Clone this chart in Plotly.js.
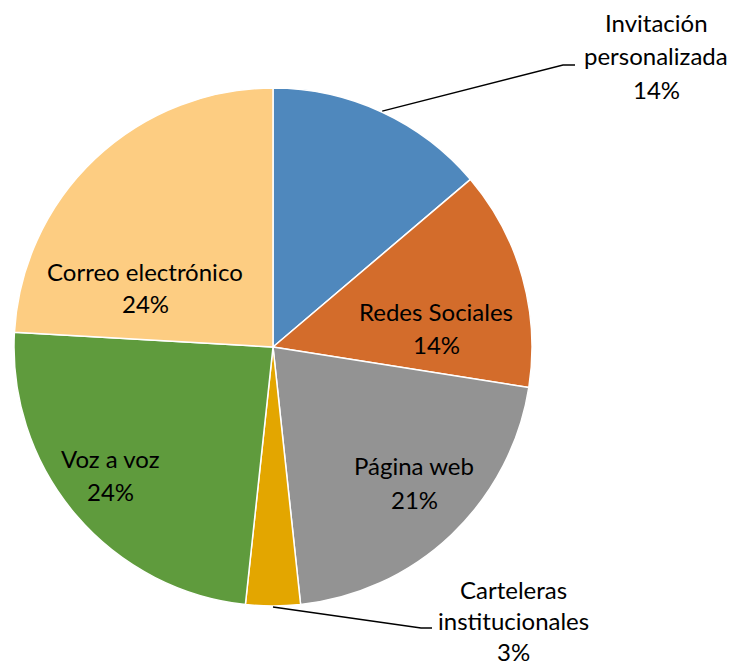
<!DOCTYPE html>
<html>
<head>
<meta charset="utf-8">
<script src="https://cdn.plot.ly/plotly-3.0.1.min.js"></script>
<style>html,body{margin:0;padding:0;background:#fff;}#chart{width:734px;height:667px;}</style>
</head>
<body>
<div id="chart"></div>
<script>
// Data
const categories = ["Invitación personalizada", "Redes Sociales", "Página web", "Carteleras institucionales", "Voz a voz", "Correo electrónico"];
const labelLines = [["Invitación", "personalizada"], ["Redes Sociales"], ["Página web"], ["Carteleras", "institucionales"], ["Voz a voz"], ["Correo electrónico"]];
const values = [13.8, 13.7, 20.8, 3.4, 24.2, 24.1];
const colors = ["#4F88BD", "#D36C2B", "#939393", "#E3A600", "#5F9B3D", "#FDCD82"];

// Layout constants (pixels)
const W = 734, H = 667;
const CX = 273, CY = 347, R = 259;
// label block positions: [x center, first line y center, line step]
const labelPos = [[656, 23, 33], [436, 311, 33], [414, 466, 33], [513, 589, 31], [110, 458, 33], [145, 271, 33]];
// leader line elbows for outside labels: index -> [elbowX, elbowY, endX]
const leaders = {0: [563, 65, 575], 3: [421, 628, 432]};

const px = x => x / W;
const py = y => 1 - y / H;

const total = values.reduce((a, b) => a + b, 0);
const annotations = [];
const shapes = [];
let cum = 0;
values.forEach((v, i) => {
  const pct = Math.round(v / total * 100) + "%";
  const lines = labelLines[i].concat([pct]);
  const [lx, ly, step] = labelPos[i];
  lines.forEach((t, k) => {
    annotations.push({
      x: px(lx), y: py(ly + k * step), xref: "paper", yref: "paper",
      text: t, showarrow: false, xanchor: "center", yanchor: "middle", borderpad: 0,
      font: {family: "Lato, 'Open Sans', sans-serif", size: 24, color: "#000"}
    });
  });
  const mid = (cum + v / 2) / total * 2 * Math.PI;
  cum += v;
  if (leaders[i]) {
    const sx = CX + (R + 1) * Math.sin(mid);
    const sy = CY - (R + 1) * Math.cos(mid);
    const [ex, ey, endX] = leaders[i];
    shapes.push({type: "path", xref: "paper", yref: "paper",
      path: `M ${px(sx)} ${py(sy)} L ${px(ex)} ${py(ey)} L ${px(endX)} ${py(ey)}`,
      line: {color: "#000", width: 1.3}});
  }
});

const trace = {
  type: "pie",
  labels: categories,
  values: values,
  sort: false,
  direction: "clockwise",
  rotation: 0,
  textinfo: "none",
  hoverinfo: "label+percent",
  marker: {colors: colors, line: {color: "#ffffff", width: 1.5}},
  domain: {x: [(CX - R) / W, (CX + R) / W], y: [1 - (CY + R) / H, 1 - (CY - R) / H]},
  showlegend: false
};

const layout = {
  width: W, height: H,
  margin: {l: 0, r: 0, t: 0, b: 0},
  paper_bgcolor: "#ffffff",
  showlegend: false,
  annotations: annotations,
  shapes: shapes
};

Plotly.newPlot("chart", [trace], layout, {displayModeBar: false, staticPlot: true});
</script>
</body>
</html>
